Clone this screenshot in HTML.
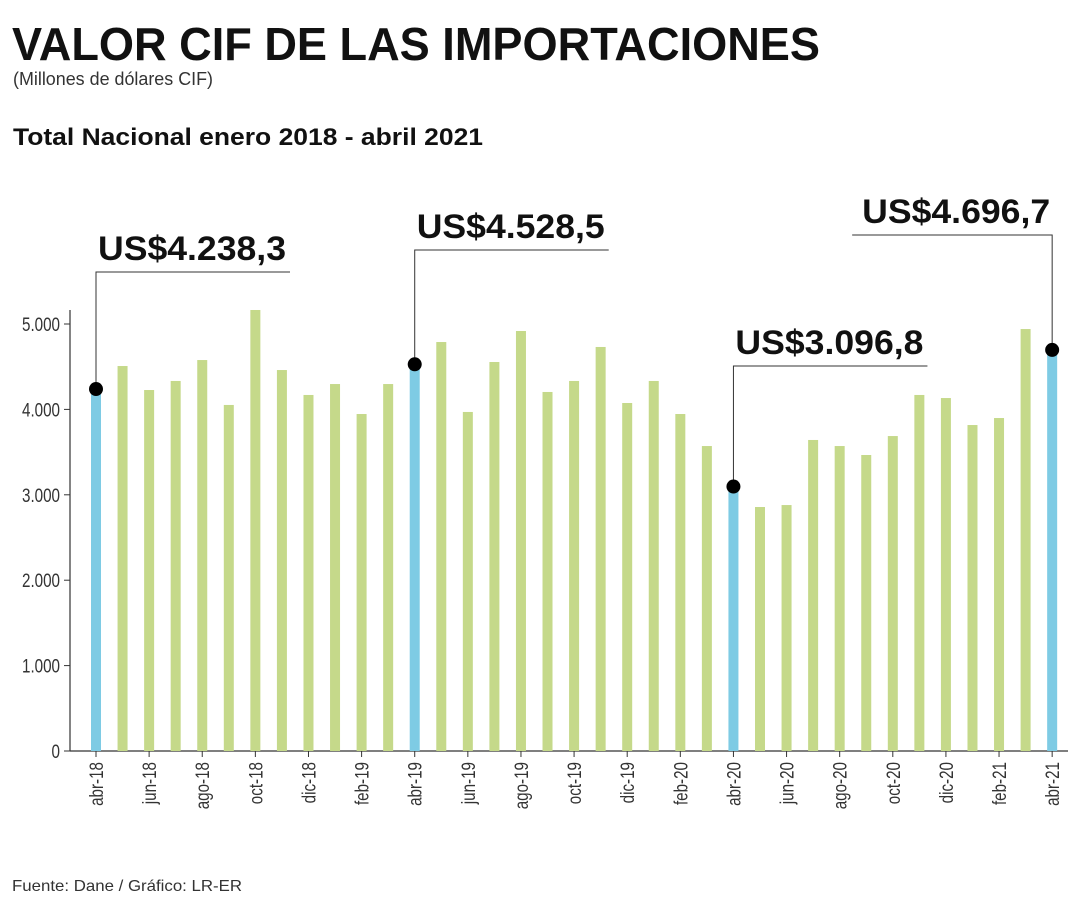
<!DOCTYPE html>
<html><head><meta charset="utf-8"><style>
body{margin:0;background:#fff;width:1080px;height:900px;overflow:hidden;font-family:"Liberation Sans",sans-serif}
svg{position:absolute;left:0;top:0}
</style></head><body>
<svg id="c" width="1080" height="900">
<text x="12" y="60" font-size="46" font-weight="bold" fill="#111" textLength="808" lengthAdjust="spacingAndGlyphs">VALOR CIF DE LAS IMPORTACIONES</text>
<text x="13" y="85" font-size="18" fill="#333" textLength="200" lengthAdjust="spacingAndGlyphs">(Millones de dólares CIF)</text>
<text x="13" y="145" font-size="24" font-weight="bold" fill="#111" textLength="470" lengthAdjust="spacingAndGlyphs">Total Nacional enero 2018 - abril 2021</text>
<text x="12" y="891" font-size="16" fill="#333" textLength="230" lengthAdjust="spacingAndGlyphs">Fuente: Dane / Gráfico: LR-ER</text>
<g id="plot"></g>
</svg>
<script>
const months=["abr-18","may-18","jun-18","jul-18","ago-18","sep-18","oct-18","nov-18","dic-18","ene-19","feb-19","mar-19","abr-19","may-19","jun-19","jul-19","ago-19","sep-19","oct-19","nov-19","dic-19","ene-20","feb-20","mar-20","abr-20","may-20","jun-20","jul-20","ago-20","sep-20","oct-20","nov-20","dic-20","ene-21","feb-21","mar-21","abr-21"];
const values=[4238.3,4508,4227,4333,4578,4052,5164,4461,4169,4297,3946,4297,4528.5,4789,3970,4555,4918,4204,4333,4731,4075,4333,3946,3571,3096.8,2857,2880,3642,3571,3466,3688,4169,4133,3817,3899,4941,4696.7];
const yTicks=[0,1000,2000,3000,4000,5000];
const yTickLabels=["0","1.000","2.000","3.000","4.000","5.000"];
const highlights=[0,12,24,36];
const highlightLabels=["US$4.238,3","US$4.528,5","US$3.096,8","US$4.696,7"];
const NS="http://www.w3.org/2000/svg",g=document.getElementById('plot');
const y=v=>751-v*0.0854, x=i=>96+i*26.56;
function el(t,a,p){const e=document.createElementNS(NS,t);for(const k in a)e.setAttribute(k,a[k]);(p||g).appendChild(e);return e;}
let ax=el('line',{x1:70,y1:310,x2:70,y2:751,stroke:"#333","stroke-width":1.2});


let bx=el('line',{x1:70,y1:751,x2:1068,y2:751,stroke:"#333","stroke-width":1.2});


yTicks.forEach((v,i)=>{
 let t=el('line',{x1:64,y1:y(v),x2:70,y2:y(v),stroke:"#333"});
 
 
 let l=el('text',{x:60,y:y(v)+7,"font-size":19,"text-anchor":"end",fill:"#333",transform:`translate(60 0) scale(0.8 1) translate(-60 0)`});
 l.textContent=yTickLabels[i];
 
 
});
months.forEach((m,i)=>{
 const hl=highlights.includes(i);
 let b=el('rect',{x:x(i)-5,y:y(values[i]),width:10,height:751-y(values[i]),fill:hl?"#7ecbe4":"#c5d98a"});
 
 
 if(i%2===0){
  let t=el('line',{x1:x(i),y1:751,x2:x(i),y2:757,stroke:"#333"});
  
  
  let l=el('text',{x:0,y:0,"font-size":19,"text-anchor":"end",fill:"#333",transform:`translate(${x(i)+7} 762) rotate(-90) scale(0.8 1)`});
  l.textContent=m;
  
  
 }
});
const lineTop=[272,250,366,235];
highlights.forEach((i,k)=>{
 const cx=x(i),cy=y(values[i]),top=lineTop[k];
 const right=k<3;
 const x2=right?cx+194:cx-200;
 let p=el('polyline',{points:`${cx},${cy} ${cx},${top} ${x2},${top}`,fill:"none",stroke:"#333","stroke-width":1});
 
 
 let d=el('circle',{cx:cx,cy:cy,r:7,fill:"#000"});
 
 
 let t=el('text',{x:right?cx+2:cx-2,y:top-12,"font-size":34,"font-weight":"bold",fill:"#111","text-anchor":right?"start":"end",textLength:188,lengthAdjust:"spacingAndGlyphs"});
 t.textContent=highlightLabels[k];
 
 
});
</script>
</body></html>
